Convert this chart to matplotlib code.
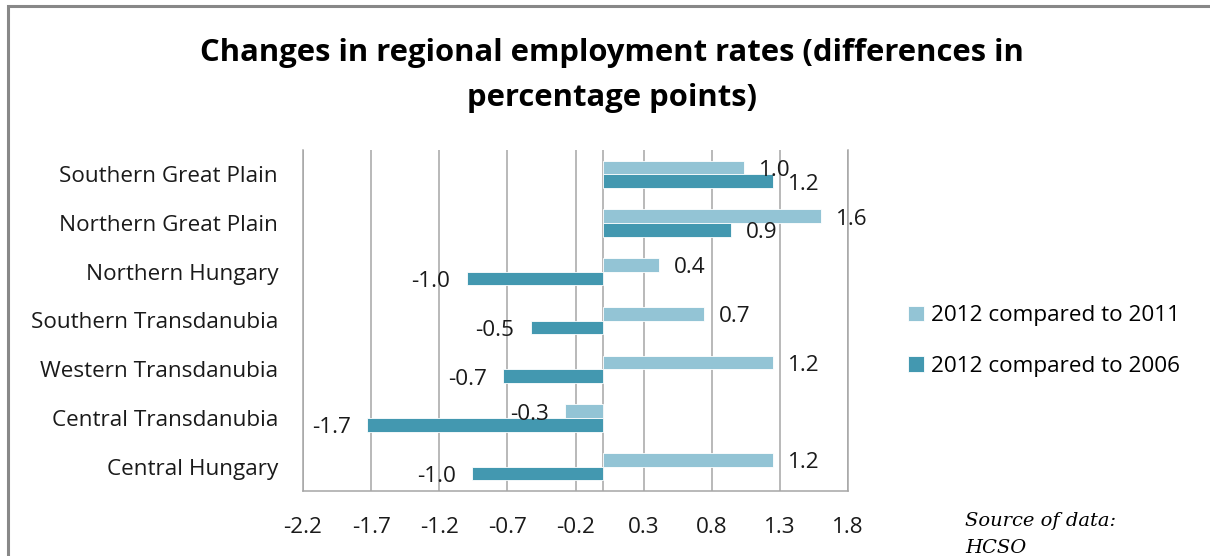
import numpy as np
import matplotlib
matplotlib.use("Agg")
import matplotlib.pyplot as plt
from matplotlib.patches import Rectangle

# ---------------------------------------------------------------------------
# Data (top to bottom as shown)
# ---------------------------------------------------------------------------
regions = [
    "Southern Great Plain",
    "Northern Great Plain",
    "Northern Hungary",
    "Southern Transdanubia",
    "Western Transdanubia",
    "Central Transdanubia",
    "Central Hungary",
]
vs_2011 = [1.04, 1.60, 0.41, 0.74, 1.25, -0.28, 1.25]
vs_2006 = [1.25, 0.94, -1.00, -0.53, -0.73, -1.73, -0.96]
series_names = ["2012 compared to 2011", "2012 compared to 2006"]
x_ticks = [-2.2, -1.7, -1.2, -0.7, -0.2, 0.3, 0.8, 1.3, 1.8]

LIGHT = "#93C4D5"
DARK = "#4398B0"
GRID_C = "#A6A6A6"
FONT = "Open Sans"
FS = 16.2

W, H = 1210, 556
fig = plt.figure(figsize=(W / 100, H / 100), dpi=100)
ax = fig.add_axes([303 / W, 1 - 491 / H, (848 - 303) / W, (491 - 150) / H])

n = len(regions)
y = np.arange(n)[::-1]
bh = 0.28
ax.barh(y + bh / 2, vs_2011, height=bh, color=LIGHT, edgecolor="white",
        linewidth=0.6, zorder=3, label=series_names[0])
ax.barh(y - bh / 2, vs_2006, height=bh, color=DARK, edgecolor="white",
        linewidth=0.6, zorder=3, label=series_names[1])

# data labels, outside end
for yy, vals in ((y + bh / 2, vs_2011), (y - bh / 2, vs_2006)):
    for yi, v in zip(yy, vals):
        off = 15 if v >= 0 else -16
        ax.annotate(f"{v:.1f}", (v, yi), xytext=(off, -3),
                    textcoords="offset pixels",
                    ha="left" if v >= 0 else "right", va="center",
                    fontsize=FS, family=FONT, color="#1a1a1a", zorder=4)

ax.set_xlim(-2.2, 1.8)
ax.set_ylim(-0.5, n - 0.5)
ax.set_xticks(x_ticks)
ax.set_xticklabels([f"{t:.1f}" for t in x_ticks], family=FONT, fontsize=FS)
ax.set_yticks(y)
ax.set_yticklabels(regions, family=FONT, fontsize=FS)
ax.tick_params(axis="both", length=0, colors="#1a1a1a")
ax.tick_params(axis="x", pad=19)
ax.tick_params(axis="y", pad=18)
ax.grid(axis="x", color=GRID_C, linewidth=1.1, zorder=0)
ax.axvline(0, color=GRID_C, linewidth=1.1, zorder=2)
ax.spines["top"].set_visible(False)
for s in ("left", "right", "bottom"):
    ax.spines[s].set_color(GRID_C)
    ax.spines[s].set_linewidth(1.1)

leg = fig.legend(loc="center left", bbox_to_anchor=(888 / W, 1 - 341 / H),
                 frameon=False, prop={"family": FONT, "size": FS},
                 handlelength=0.7, handleheight=0.7, handletextpad=0.3,
                 labelspacing=1.3)

fig.text(612 / W, 1 - 53 / H,
         "Changes in regional employment rates (differences in",
         ha="center", va="center", fontsize=22.3, fontweight="bold",
         family=FONT, color="black")
fig.text(612 / W, 1 - 98 / H, "percentage points)",
         ha="center", va="center", fontsize=22.3, fontweight="bold",
         family=FONT, color="black")

fig.text(965 / W, 1 - 521 / H, "Source of data:", ha="left", va="center",
         fontsize=14, style="italic", family="DejaVu Serif")
fig.text(965 / W, 1 - 548 / H, "HCSO", ha="left", va="center",
         fontsize=14, style="italic", family="DejaVu Serif")

# outer chart frame (left and top edges visible)
fig.add_artist(Rectangle((8 / W, -0.1), 1.2, 1.1 - 6 / H,
                         transform=fig.transFigure, fill=False,
                         edgecolor="#888888", linewidth=2.2))

fig.savefig("out.png", dpi=100)
